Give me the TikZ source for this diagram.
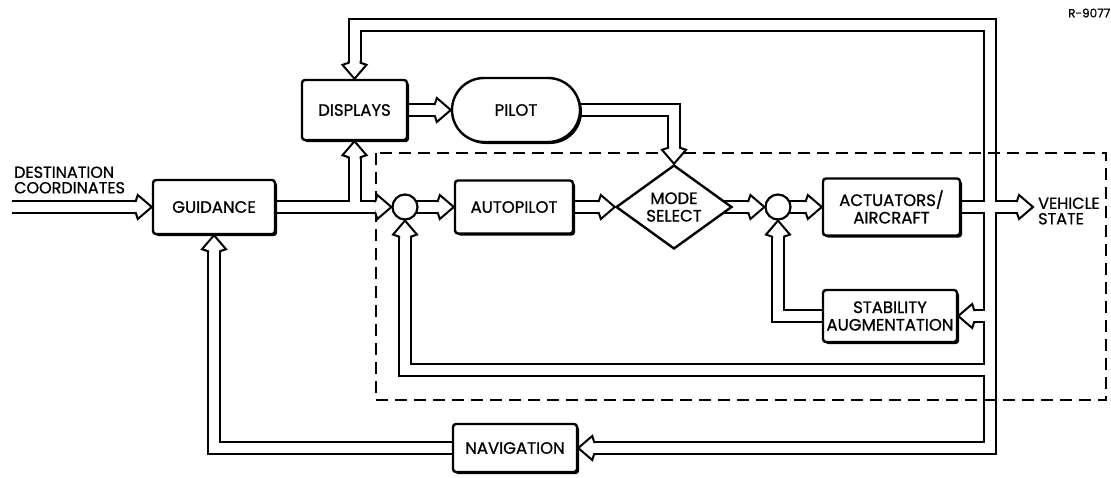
\documentclass[tikz,border=0pt]{standalone}
\usepackage{fontspec}
\setmainfont{Poppins}[FakeBold=0.9]
\usetikzlibrary{shapes.geometric,shadows}
\pgfdeclarelayer{bg}
\pgfdeclarelayer{mid}
\pgfsetlayers{bg,mid,main}
\newcommand\labfont{\fontsize{16.5}{17.5}\selectfont}
\newcommand\smallfont{\fontsize{16}{15.5}\selectfont}
\tikzset{
  box/.style={rectangle, draw, line width=2.4pt, fill=white, rounded corners=3pt,
    inner sep=0pt, align=center, font=\labfont,
    drop shadow={shadow xshift=2pt, shadow yshift=-2pt, opacity=1, fill=black}},
  stadium/.style={box, rounded corners=32pt},
  decide/.style={diamond, aspect=1.38, draw, line width=2.4pt, fill=white,
    inner sep=0pt, align=center, font=\labfont},
  sumjunc/.style={circle, draw, line width=2.2pt, fill=white, minimum size=25pt, inner sep=0pt},
  busblack/.style={line width=14pt, draw=black, line join=miter},
  buswhite/.style={line width=10pt, draw=white, line join=miter},
  frame/.style={draw, line width=2.2pt, dash pattern=on 12pt off 7pt},
  hhead/.pic={
    \fill[white] (-16,6) -- (-14,12) -- (0,0) -- (-14,-12) -- (-16,-6) -- cycle;
    \draw[line width=2pt, line join=miter] (-18,6) -- (-16,6) -- (-14,12) -- (0,0)
      -- (-14,-12) -- (-16,-6) -- (-18,-6);
  }
}
\newcommand\BusNet{%
  \draw[bus, shorten >=16pt] (dstart) -- (guidance.west);
  \draw[bus, shorten >=16pt] (guidance.center) -- (c1.west);
  \draw[bus, shorten >=16pt] (displays.south |- guidance.center) -- (displays.south);
  \draw[bus, shorten >=16pt] (c1.center) -- (autopilot.west);
  \draw[bus, shorten >=16pt] (displays.center) -- (pilot.west);
  \draw[bus, shorten >=16pt] (pilot.center) -- (mode.north |- pilot.center) -- (mode.north);
  \draw[bus, shorten >=16pt] (autopilot.center) -- (mode.west);
  \draw[bus, shorten >=16pt] (mode.center) -- (c2.west);
  \draw[bus, shorten >=16pt] (c2.center) -- (actuators.west);
  \draw[bus, shorten >=16pt] (actuators.center) -- (actuators.center -| vstate.west);
  \draw[bus, shorten <=16pt, shorten >=16pt] (displays.north) -- (displays.north |- topy)
     -- (topy -| busx) -- (busx |- navigation.center) -- (navigation.east);
  \draw[bus, shorten >=16pt] (busx |- stability.center) -- (stability.east);
  \draw[bus, shorten >=16pt] (busx |- fb) -- (c1.south |- fb) -- (c1.south);
  \draw[bus, shorten >=16pt] (stability.center) -- (c2.south |- stability.center) -- (c2.south);
  \draw[bus, shorten >=16pt] (navigation.center) -- (guidance.south |- navigation.center) -- (guidance.south);
}
\begin{document}
\begin{tikzpicture}[x=1pt, y=-1pt]
\useasboundingbox (0,0) rectangle (1111,477);
% nodes
\node[box, minimum width=122pt, minimum height=54pt] (guidance) at (214,207) {GUIDANCE};
\node[box, minimum width=105pt, minimum height=60pt] (displays) at (354.5,110) {DISPLAYS};
\node[stadium, minimum width=128pt, minimum height=64pt] (pilot) at (516,110) {PILOT};
\node[sumjunc] (c1) at (405,207) {};
\node[box, minimum width=118pt, minimum height=53pt] (autopilot) at (514,207) {AUTOPILOT};
\node[decide, minimum width=116pt, minimum height=84pt] (mode) at (674,207) {MODE\\SELECT};
\node[sumjunc] (c2) at (778,207) {};
\node[box, minimum width=137pt, minimum height=57pt] (actuators) at (891.5,207) {ACTUATORS/\\AIRCRAFT};
\node[box, minimum width=134pt, minimum height=52pt] (stability) at (890,316) {STABILITY\\AUGMENTATION};
\node[box, minimum width=124pt, minimum height=48pt] (navigation) at (515,448) {NAVIGATION};
\node[anchor=west, align=left, inner sep=5pt, font=\smallfont] (vstate) at (1033,211) {VEHICLE\\STATE};
\node[anchor=west, align=left, inner sep=0pt, font=\smallfont] (destlabel) at (14,180) {DESTINATION\\COORDINATES};
\node[anchor=west, inner sep=0pt, font=\fontsize{12}{13}\selectfont] (refno) at (1068,13) {R-9077};
% helper coordinates
\coordinate (dstart) at (12,207);
\coordinate (topy) at (0,25);
\coordinate (busx) at (990,0);
\coordinate (fb) at (0,370);
% double-line connectors
\begin{pgfonlayer}{bg}
  \tikzset{bus/.style=busblack}\BusNet
  \tikzset{bus/.style=buswhite}\BusNet
\end{pgfonlayer}
\begin{pgfonlayer}{mid}
  \draw[frame] (376,153) rectangle (1106,400);
  \pic at (guidance.west) {hhead};
  \pic[rotate=90] at (displays.south) {hhead};
  \pic at (c1.west) {hhead};
  \pic at (autopilot.west) {hhead};
  \pic at (pilot.west) {hhead};
  \pic[rotate=-90] at (mode.north) {hhead};
  \pic at (mode.west) {hhead};
  \pic at (c2.west) {hhead};
  \pic at (actuators.west) {hhead};
  \pic at (actuators.center -| vstate.west) {hhead};
  \pic[rotate=-90] at (displays.north) {hhead};
  \pic[rotate=180] at (stability.east) {hhead};
  \pic[rotate=180] at (navigation.east) {hhead};
  \pic[rotate=90] at (c1.south) {hhead};
  \pic[rotate=90] at (c2.south) {hhead};
  \pic[rotate=90] at (guidance.south) {hhead};
\end{pgfonlayer}
\end{tikzpicture}
\end{document}
